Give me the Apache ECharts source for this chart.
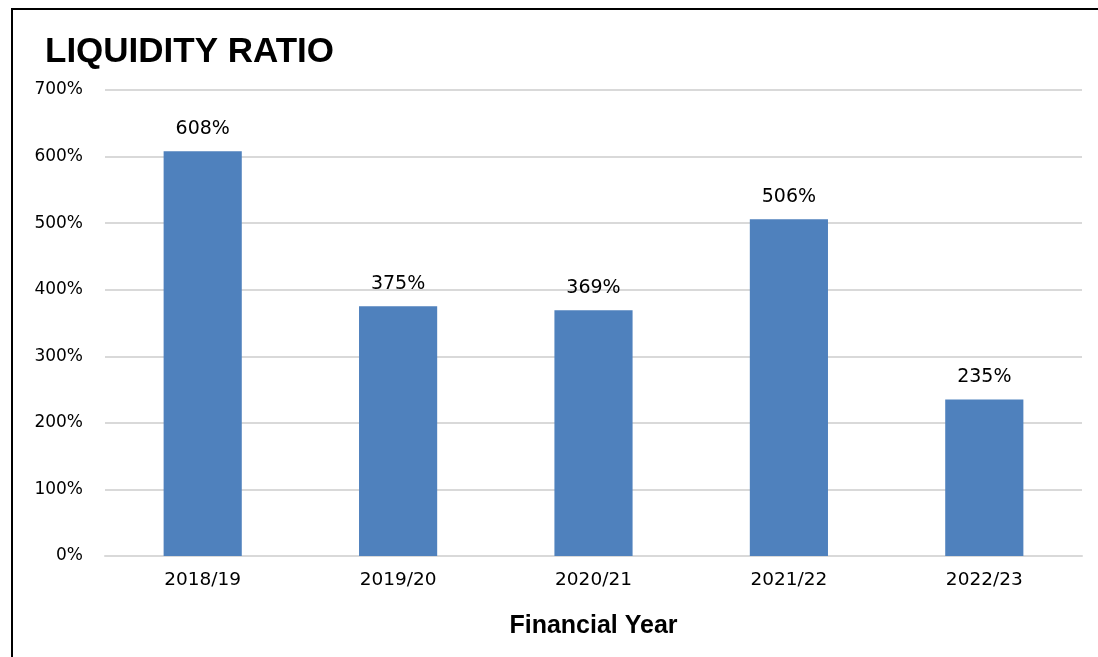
<!DOCTYPE html>
<html>
<head>
<meta charset="utf-8">
<script src="https://cdn.jsdelivr.net/npm/echarts@6/dist/echarts.min.js"></script>
<style>
  html, body { margin: 0; padding: 0; background: #fff; }
  #frame {
    position: absolute; left: 11px; top: 8px; width: 1200px; height: 700px;
    border-left: 2px solid #000; border-top: 2px solid #000;
  }
  #chart { position: absolute; left: 0; top: 0; width: 1098px; height: 657px; }
</style>
</head>
<body>
<div id="frame"></div>
<div id="chart"></div>
<script>
// Liquidity ratio by financial year (percent)
const years = ['2018/19', '2019/20', '2020/21', '2021/22', '2022/23'];
const ratios = [608, 375, 369, 506, 235];
const yTicks = { min: 0, max: 700, step: 100 };

const chart = echarts.init(document.getElementById('chart'));
const labelFont = 'DejaVu Sans';
const headFont = 'Liberation Sans';

chart.setOption({
  animation: false,
  title: {
    text: 'LIQUIDITY RATIO',
    left: 40, top: 30,
    textStyle: { fontFamily: headFont, fontWeight: 'bold', fontSize: 35, color: '#000' }
  },
  grid: { left: 105, right: 16, top: 90, bottom: 101, containLabel: false },
  xAxis: {
    type: 'category',
    data: years,
    name: 'Financial Year',
    nameLocation: 'middle',
    nameGap: 58,
    nameTextStyle: { fontFamily: headFont, fontWeight: 'bold', fontSize: 25, color: '#000' },
    axisLine: { show: true, lineStyle: { color: '#d9d9d9', width: 2 } },
    axisTick: { show: false },
    axisLabel: { fontFamily: labelFont, fontSize: 18.5, color: '#000', margin: 15 }
  },
  yAxis: {
    type: 'value',
    min: yTicks.min, max: yTicks.max, interval: yTicks.step,
    axisLine: { show: false },
    axisTick: { show: false },
    axisLabel: { fontFamily: labelFont, fontSize: 17, color: '#000', margin: 22, formatter: v => v + '%' },
    splitLine: { lineStyle: { color: '#d9d9d9', width: 2 } }
  },
  series: [{
    type: 'bar',
    data: ratios,
    barWidth: '40%',
    itemStyle: { color: '#4f81bd' },
    label: {
      show: true, position: 'top', distance: 13,
      fontFamily: labelFont, fontSize: 19, color: '#000',
      formatter: p => p.value + '%'
    }
  }]
});
</script>
</body>
</html>
